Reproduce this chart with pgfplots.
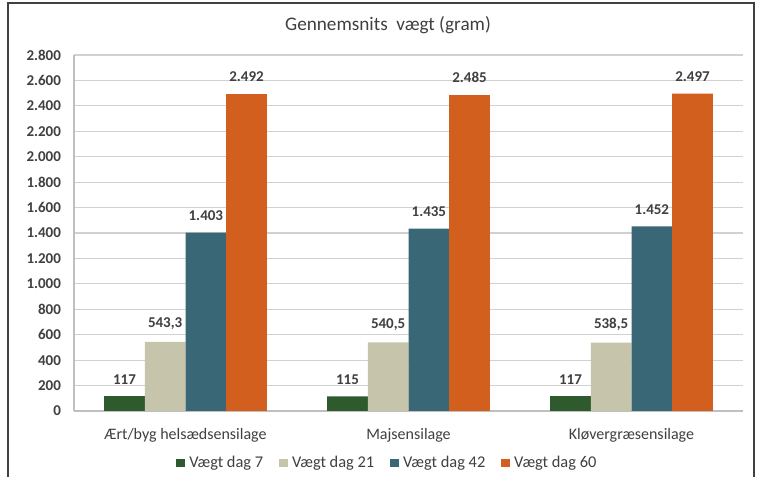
\documentclass[border=0pt]{standalone}
\usepackage{fontspec}
\setmainfont{Carlito}
\usepackage{pgfplots}
\pgfplotsset{compat=1.18}
\definecolor{cgreen}{RGB}{46,90,45}
\definecolor{cbeige}{RGB}{199,196,172}
\definecolor{cteal}{RGB}{58,103,117}
\definecolor{corange}{RGB}{211,95,30}
\definecolor{txt}{RGB}{64,64,64}
\begin{document}
\begin{tikzpicture}[x=1pt,y=1pt]
\path[use as bounding box] (0,0) rectangle (379.5,238);
\draw[fill=white,draw=none] (0,0) rectangle (379.5,238);
\draw[line width=0.8pt,color=black!75] (4,-5) -- (4,236.5) -- (377,236.5) -- (377,-5);
\node[font=\fontsize{9.6}{11}\selectfont, text=txt] at (194,225.5) {Gennemsnits\ \ vægt (gram)};
\begin{axis}[
  at={(37pt,32.5pt)}, anchor=south west,
  scale only axis, width=334.5pt, height=178pt,
  xmin=-0.5, xmax=2.5, ymin=0, ymax=2800,
  ybar=0pt, bar width=20.35pt,
  xtick={0,1,2},
  xticklabels={Ært/byg helsædsensilage, Majsensilage, Kløvergræsensilage},
  ytick={0,200,...,2800},
  major tick length=0pt,
  axis lines*=left,
  axis line style={draw=black!25, line width=0.6pt, -},
  ymajorgrids, grid style={draw=black!18, line width=0.6pt},
  /pgf/number format/assume math mode=true,
  /pgf/number format/.cd, use comma, 1000 sep={.},
  /pgfplots/.cd,
  yticklabel style={font=\fontsize{7.5}{9}\selectfont\bfseries, text=txt, xshift=-3pt},
  xticklabel style={font=\fontsize{8}{9}\selectfont, text=txt, yshift=-5pt},
  nodes near coords,
  nodes near coords style={font=\fontsize{7.5}{9}\selectfont\bfseries, text=txt, yshift=2.5pt},
  legend columns=4,
  legend style={at={(0.47,-0.146)}, anchor=center, draw=none, fill=none,
    font=\fontsize{8.2}{10}\selectfont, text=txt,
    /tikz/every even column/.append style={column sep=6pt}},
  legend image code/.code={\fill[#1] (0pt,-2.2pt) rectangle (4.4pt,2.2pt);},
  every axis plot/.append style={draw=none},
]
\addplot[fill=cgreen] coordinates {(0,117) (1,115) (2,117)};
\addplot[fill=cbeige] coordinates {(0,543.3) (1,540.5) (2,538.5)};
\addplot[fill=cteal] coordinates {(0,1403) (1,1435) (2,1452)};
\addplot[fill=corange] coordinates {(0,2492) (1,2485) (2,2497)};
\legend{Vægt dag 7, Vægt dag 21, Vægt dag 42, Vægt dag 60}
\end{axis}
\end{tikzpicture}
\end{document}
